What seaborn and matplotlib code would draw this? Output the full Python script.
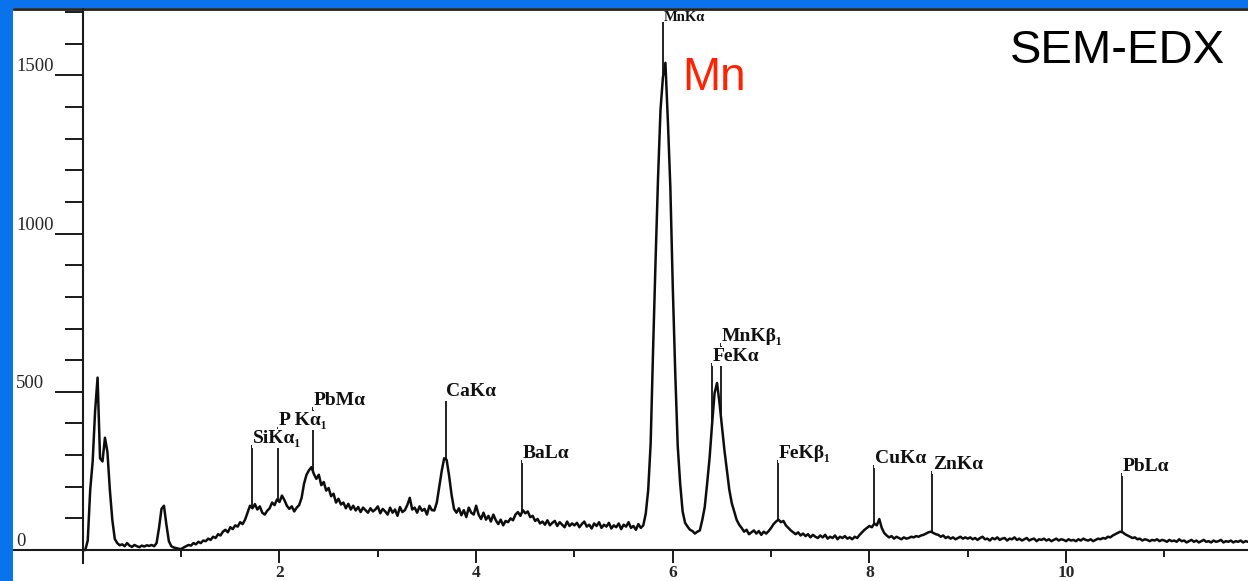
import numpy as np
import matplotlib
matplotlib.use("Agg")
import matplotlib.pyplot as plt
import seaborn as sns
import pandas as pd
from matplotlib.patches import Rectangle
from matplotlib.ticker import FixedLocator

# ---------------- data ----------------
channel_step_kev = 0.025
counts = (
    # 0 keV
    [0, 0, 30, 190, 280, 440, 545, 290, 280, 355, 310, 190, 95, 35, 22, 15, 18, 12, 22, 14,
     10, 16, 12, 9, 14, 11, 15, 13, 16, 12, 22, 70, 130, 140, 80, 28, 12, 8, 6, 4] +
    # 1 keV
    [3, 8, 12, 16, 14, 22, 18, 26, 22, 30, 28, 36, 32, 42, 38, 50, 46, 58, 64, 56,
     72, 66, 78, 74, 88, 82, 96, 118, 140, 132, 145, 128, 138, 118, 112, 124, 132, 150, 142, 160] +
    # 2 keV
    [152, 172, 158, 140, 130, 138, 122, 134, 142, 165, 210, 238, 252, 262, 240, 225, 238, 205, 215, 188,
     196, 170, 178, 150, 162, 144, 150, 132, 146, 128, 140, 125, 136, 120, 134, 126, 118, 132, 122, 128] +
    # 3 keV
    [138, 116, 130, 122, 112, 134, 118, 128, 108, 136, 120, 126, 142, 165, 128, 134, 118, 138, 124, 130,
     112, 140, 126, 125, 150, 200, 250, 290, 285, 235, 175, 130, 118, 132, 110, 126, 104, 134, 118, 112] +
    # 4 keV
    [140, 112, 98, 118, 96, 108, 90, 112, 94, 82, 96, 78, 92, 88, 100, 94, 112, 120, 108, 126,
     116, 122, 104, 108, 92, 98, 84, 90, 80, 94, 78, 86, 92, 76, 88, 80, 72, 90, 76, 84] +
    # 5 keV
    [78, 86, 72, 82, 90, 74, 80, 68, 84, 76, 88, 70, 80, 74, 86, 68, 78, 72, 84, 66,
     80, 74, 88, 70, 76, 64, 82, 70, 78, 115, 190, 338, 638, 917, 1176, 1391, 1495, 1540, 1356, 1148] +
    # 6 keV
    [830, 560, 330, 210, 122, 86, 74, 64, 60, 52, 58, 62, 95, 136, 212, 294, 400, 496, 528, 465,
     390, 316, 253, 190, 148, 122, 95, 80, 70, 58, 64, 50, 56, 62, 52, 60, 48, 58, 52, 60] +
    # 7 keV
    [70, 82, 90, 96, 88, 92, 78, 70, 62, 56, 50, 56, 46, 52, 44, 50, 40, 48, 42, 38,
     46, 40, 48, 36, 42, 38, 46, 34, 42, 38, 44, 36, 40, 34, 42, 38, 48, 56, 64, 70] +
    # 8 keV
    [76, 72, 84, 78, 98, 70, 54, 46, 40, 44, 36, 42, 38, 34, 40, 36, 38, 42, 40, 44,
     42, 46, 48, 52, 56, 58, 54, 50, 48, 42, 46, 38, 42, 36, 40, 34, 38, 42, 36, 40] +
    # 9 keV
    [36, 40, 34, 38, 32, 38, 42, 34, 36, 30, 38, 34, 40, 32, 36, 38, 30, 36, 34, 40,
     32, 36, 30, 34, 38, 30, 34, 36, 28, 34, 32, 36, 30, 34, 28, 32, 36, 30, 34, 32] +
    # 10 keV
    [28, 34, 30, 32, 28, 34, 30, 36, 32, 30, 34, 28, 32, 36, 34, 38, 36, 42, 40, 46,
     50, 54, 58, 56, 50, 46, 42, 38, 40, 34, 36, 30, 34, 32, 28, 32, 30, 34, 28, 32] +
    # 11 keV
    [30, 26, 32, 28, 30, 26, 34, 28, 30, 24, 28, 32, 26, 30, 24, 28, 32, 26, 28, 24,
     30, 26, 28, 32, 24, 28, 26, 30, 24, 28, 26, 30, 24, 28, 26]
)
energy = np.round(np.arange(len(counts)) * channel_step_kev, 3)

peak_labels = ["SiKα₁", "P Kα₁", "PbMα", "CaKα", "BaLα", "MnKα",
               "FeKα", "MnKβ₁", "FeKβ₁", "CuKα", "ZnKα", "PbLα"]
peak_energy = [1.72, 1.99, 2.34, 3.69, 4.47, 5.90, 6.40, 6.49, 7.07, 8.05, 8.64, 10.57]
peak_top = [332, 389, 452, 481, 285, 1669, 591, 654, 285, 269, 250, 243]

y_major = [0, 500, 1000, 1500]
y_minor = [100, 200, 300, 400, 600, 700, 800, 900, 1100, 1200, 1300, 1400, 1600, 1700]
x_major = [2, 4, 6, 8, 10]
x_minor = [1, 3, 5, 7, 9, 11]

# ---------------- style ----------------
sns.set_style("white")
serif = ["Liberation Serif", "DejaVu Serif"]
blue = "#0a72ea"

W, H = 1248, 581
fig = plt.figure(figsize=(W / 100, H / 100), dpi=100, facecolor=blue)
fig.patches.append(Rectangle((13 / W, 0), 1 - 13 / W, (H - 8) / H,
                             transform=fig.transFigure, fc="white", ec="none", zorder=-10))
ax = fig.add_axes([14 / W, 18 / H, (W - 14) / W, (563 - 9) / H])
ax.set_facecolor("white")

df = pd.DataFrame({"energy": energy, "counts": counts})
sns.lineplot(data=df, x="energy", y="counts", ax=ax, color="#0d0d0d", linewidth=1.8)

ax.set_xlim(-0.70, 11.85)
ax.set_ylim(-41, 1710)
ax.set_xlabel("")
ax.set_ylabel("")

# spines
for s in ["left", "bottom"]:
    ax.spines[s].set_position(("data", 0))
    ax.spines[s].set_linewidth(1.5)
    ax.spines[s].set_color("#1a1a1a")
ax.spines["right"].set_visible(False)
ax.spines["top"].set_linewidth(2.0)
ax.spines["top"].set_color("#222222")
ax.spines["top"].set_zorder(10)

# ticks
ax.yaxis.set_major_locator(FixedLocator(y_major))
ax.yaxis.set_minor_locator(FixedLocator(y_minor))
ax.xaxis.set_major_locator(FixedLocator(x_major))
ax.xaxis.set_minor_locator(FixedLocator(x_minor))
ax.set_yticklabels([str(v) for v in y_major])
ax.set_xticklabels([str(v) for v in x_major])

ax.tick_params(axis="y", which="major", direction="out", length=20, width=1.4,
               color="#1a1a1a", pad=28, labelsize=13.5, left=True)
ax.tick_params(axis="y", which="minor", direction="out", length=13, width=1.4,
               color="#1a1a1a", left=True)
ax.tick_params(axis="x", which="major", direction="out", length=9, width=1.4,
               color="#1a1a1a", pad=2, labelsize=12.5, bottom=True)
ax.tick_params(axis="x", which="minor", direction="out", length=5, width=1.4,
               color="#1a1a1a", bottom=True)
for lab in ax.get_yticklabels():
    lab.set_horizontalalignment("left")
    lab.set_verticalalignment("bottom")
    lab.set_family(serif)
for lab in ax.get_xticklabels():
    lab.set_family(serif)
    lab.set_fontweight("bold")

# peak marker lines and labels
line_bottom = np.interp(peak_energy, energy, counts)
ax.vlines(peak_energy, line_bottom, peak_top, color="#111111", linewidth=1.3, zorder=3)
for lab, e, t in zip(peak_labels, peak_energy, peak_top):
    top_label = lab == "MnKα"
    ax.annotate(lab, (e, t), xytext=(0.5, 0.8 if top_label else 1.5), textcoords="offset points",
                ha="left", va="baseline", fontsize=10.5 if top_label else 14,
                fontweight="bold", family=serif, color="#111111", zorder=6,
                bbox=None if top_label else dict(boxstyle="square,pad=0.05", fc="white", ec="none"))

# annotations
fig.text(1010 / W, 1 - 63 / H, "SEM-EDX", fontsize=34, family="Liberation Sans",
         color="black", ha="left", va="baseline")
fig.text(682 / W, 1 - 90 / H, "Mn", fontsize=33, family="Liberation Sans",
         color="#ff2200", ha="left", va="baseline")

fig.savefig("out.png", dpi=100, facecolor=blue)
